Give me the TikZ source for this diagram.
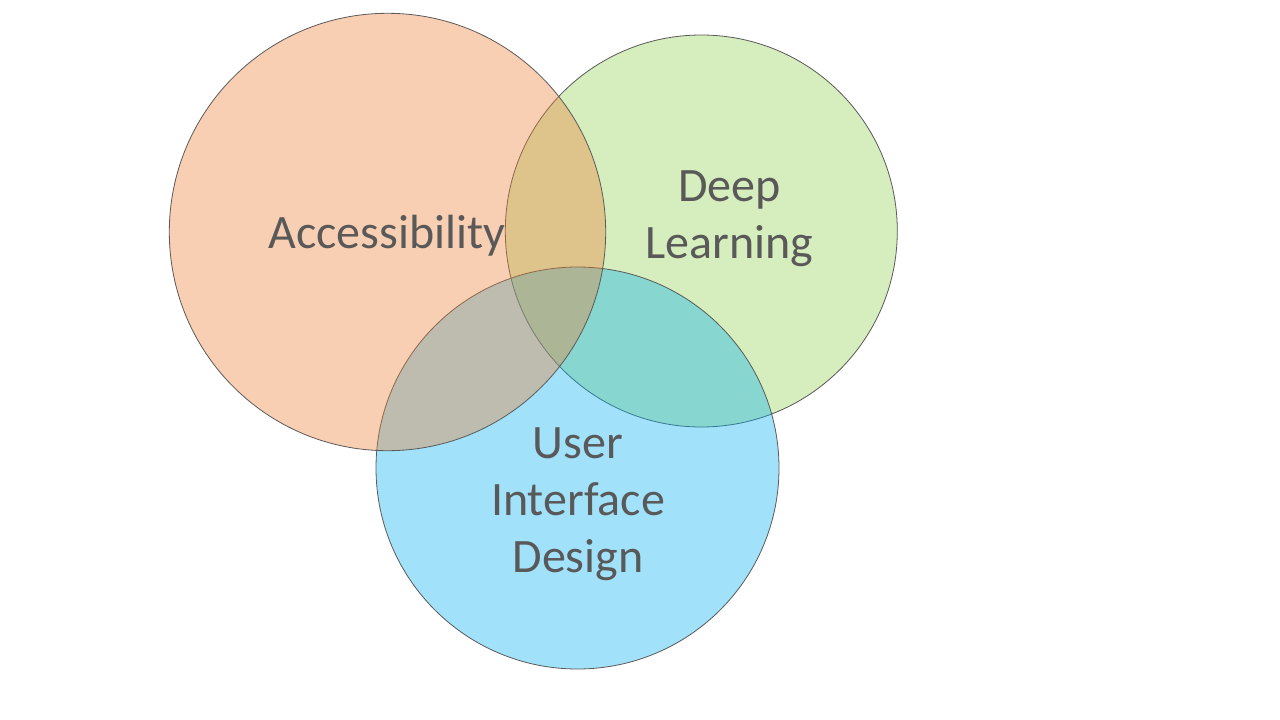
\documentclass[tikz,border=0pt]{standalone}
\usepackage{fontspec}
\setmainfont{Carlito}
\definecolor{orangeC}{HTML}{ED7D31}
\definecolor{greenC}{HTML}{92D050}
\definecolor{blueC}{HTML}{00B0F0}
\definecolor{edgeC}{HTML}{5A5A5A}
\definecolor{textC}{HTML}{595959}
\tikzset{
  setcircle/.style={draw=edgeC, line width=0.8pt, fill opacity=0.37},
  setlabel/.style={text=textC, font=\fontsize{48}{57}\selectfont, align=center, inner sep=0pt, anchor=base}
}
\begin{document}
\begin{tikzpicture}[x=1pt,y=-1pt]
\useasboundingbox (0,0) rectangle (1280,720);
\fill[white] (0,0) rectangle (1280,720);
% green bottom, blue middle, orange top
\path[setcircle, fill=greenC] (701.3,231) ellipse [x radius=196, y radius=196];
\path[setcircle, fill=blueC] (577.5,468) ellipse [x radius=201.5, y radius=201];
\path[setcircle, fill=orangeC] (387.5,232) ellipse [x radius=218.2, y radius=218.7];
\node[setlabel] (acc) at (387,248) {Accessibility};
\node[setlabel] (dl) at (729.5,258) {Deep\\Learning};
\node[setlabel] (uid) at (578,572) {User\\Interface\\Design};
\end{tikzpicture}
\end{document}
